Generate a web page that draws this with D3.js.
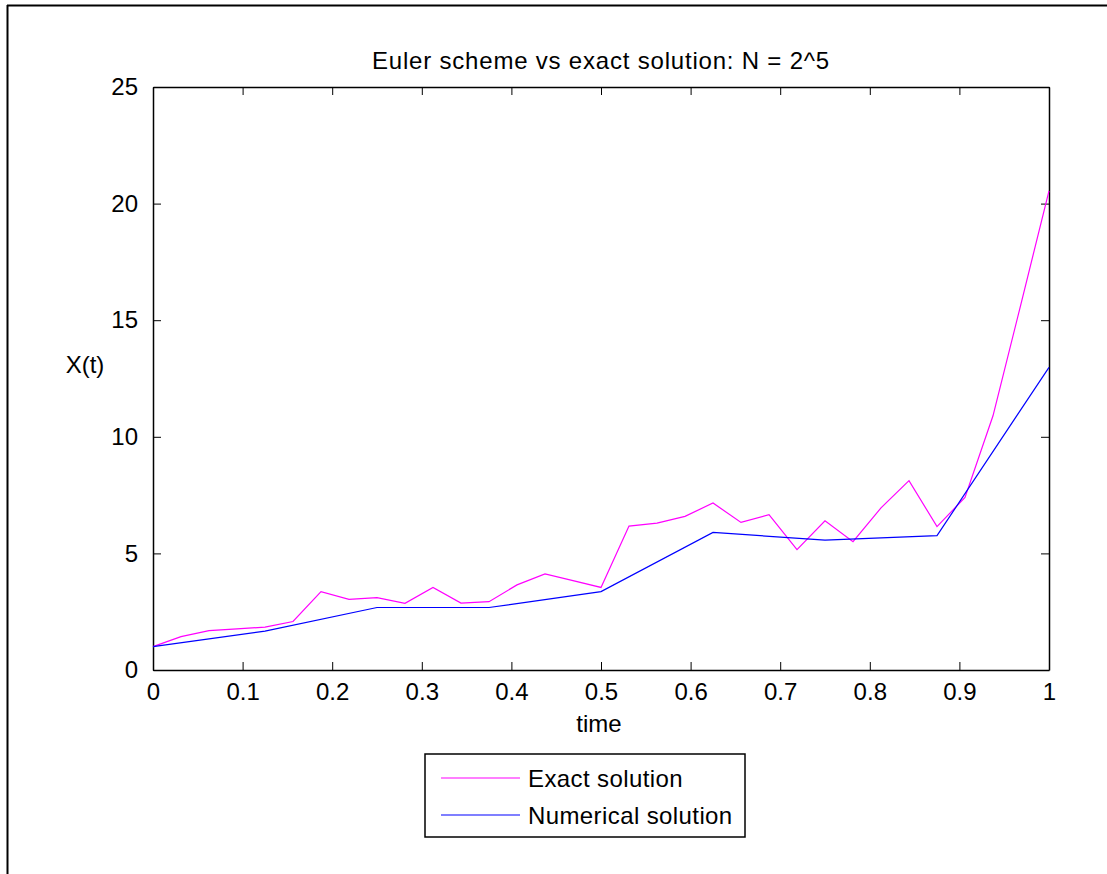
<!DOCTYPE html>
<html>
<head>
<meta charset="utf-8">
<script src="https://cdnjs.cloudflare.com/ajax/libs/d3/7.8.5/d3.min.js"></script>
<style>
  body { margin: 0; background: #fff; }
  svg text { font-family: "Liberation Sans", Arial, sans-serif; fill: #000; }
</style>
</head>
<body>
<div id="chart"></div>
<script>
var width = 1107,
    height = 874,
    margin = {top: 87, left: 153, right: 58, bottom: 204};

// exact solution sampled at t = k/32
var exactT = d3.range(0, 33).map(function(k) { return k / 32; });
var exactX = [1.00, 1.43, 1.69, 1.76, 1.84, 2.08, 3.36, 3.03, 3.10, 2.86, 3.54,
              2.87, 2.93, 3.65, 4.12, 3.83, 3.54, 6.17, 6.30, 6.59, 7.16, 6.33,
              6.66, 5.16, 6.40, 5.50, 6.95, 8.12, 6.15, 7.40, 10.9, 15.7, 20.55];

// Euler scheme, coarser step t = k/8
var eulerT = [0, 0.125, 0.25, 0.375, 0.5, 0.625, 0.75, 0.875, 1];
var eulerX = [1.00, 1.67, 2.68, 2.68, 3.36, 5.90, 5.57, 5.76, 12.98];

var xTicks = [0, 0.1, 0.2, 0.3, 0.4, 0.5, 0.6, 0.7, 0.8, 0.9, 1];
var yTicks = [0, 5, 10, 15, 20, 25];

var seriesNames = ["Exact solution", "Numerical solution"];
var seriesColors = ["#ff00ff", "#0000ff"];

var w = width - margin.left - margin.right,
    h = height - margin.top - margin.bottom;

var svg = d3.select("#chart").append("svg")
  .attr("width", width)
  .attr("height", height);

// figure frame (left and top edges only are visible)
svg.append("line").attr("x1", 7.5).attr("x2", 7.5).attr("y1", 5).attr("y2", height)
  .style("stroke", "#000").style("stroke-width", 2);
svg.append("line").attr("x1", 7).attr("x2", width).attr("y1", 5.5).attr("y2", 5.5)
  .style("stroke", "#000").style("stroke-width", 2);

var g = svg.append("g")
  .attr("transform", "translate(" + margin.left + "," + margin.top + ")");

var x = d3.scaleLinear().domain([0, 1]).range([0, w]);
var y = d3.scaleLinear().domain([0, 25]).range([h, 0]);

// axes with inward ticks on all four sides
var fontSize = "24px";
g.append("g")
  .attr("transform", "translate(0," + h + ")")
  .call(d3.axisBottom(x).tickValues(xTicks).tickSizeInner(-8).tickSizeOuter(0).tickPadding(13)
    .tickFormat(d3.format("")))
  .call(function(a) { a.selectAll("text").style("font-size", fontSize); });
g.append("g")
  .call(d3.axisTop(x).tickValues(xTicks).tickSizeInner(-8).tickSizeOuter(0).tickFormat(""));
g.append("g")
  .call(d3.axisLeft(y).tickValues(yTicks).tickSizeInner(-8).tickSizeOuter(0).tickPadding(15))
  .call(function(a) { a.selectAll("text").style("font-size", fontSize); });
g.append("g")
  .attr("transform", "translate(" + w + ",0)")
  .call(d3.axisRight(y).tickValues(yTicks).tickSizeInner(-8).tickSizeOuter(0).tickFormat(""));

g.selectAll(".domain").style("stroke", "#000").style("stroke-width", 1.5);
g.selectAll(".tick line").style("stroke", "#000");

var line = d3.line()
  .x(function(d) { return x(d[0]); })
  .y(function(d) { return y(d[1]); });

var series = [d3.zip(exactT, exactX), d3.zip(eulerT, eulerX)];

g.selectAll("path.series")
  .data(series)
  .enter().append("path")
  .attr("class", "series")
  .attr("d", line)
  .style("fill", "none")
  .style("stroke", function(d, i) { return seriesColors[i]; })
  .style("stroke-width", 1.2);

// title and axis labels
svg.append("text")
  .attr("x", margin.left + w / 2).attr("y", 69)
  .attr("text-anchor", "middle")
  .style("font-size", "24px")
  .style("letter-spacing", "0.8px")
  .text("Euler scheme vs exact solution: N = 2^5");

svg.append("text")
  .attr("x", margin.left + w / 2 - 2).attr("y", 732)
  .attr("text-anchor", "middle")
  .style("font-size", "24px")
  .text("time");

svg.append("text")
  .attr("x", 85).attr("y", 373)
  .attr("text-anchor", "middle")
  .style("font-size", "24px")
  .text("X(t)");

// legend
var legend = svg.append("g").attr("transform", "translate(425,754)");
legend.append("rect")
  .attr("width", 320).attr("height", 83)
  .style("fill", "#fff").style("stroke", "#000").style("stroke-width", 1.5);

var item = legend.selectAll("g.item")
  .data(seriesNames)
  .enter().append("g")
  .attr("class", "item")
  .attr("transform", function(d, i) { return "translate(0," + (24 + i * 37) + ")"; });
item.append("line")
  .attr("x1", 16).attr("x2", 95)
  .style("stroke", function(d, i) { return seriesColors[i]; })
  .style("stroke-width", 1.2);
item.append("text")
  .attr("x", 103).attr("y", 9)
  .style("font-size", "24px")
  .style("letter-spacing", "0.4px")
  .text(function(d) { return d; });
</script>
</body>
</html>
